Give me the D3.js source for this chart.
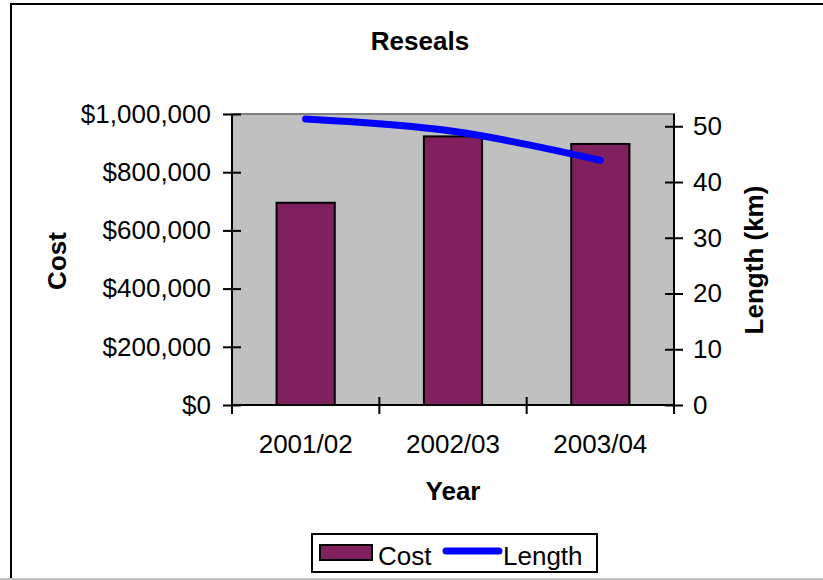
<!DOCTYPE html>
<html>
<head>
<meta charset="utf-8">
<script src="https://cdn.jsdelivr.net/npm/d3@7"></script>
<style>
  body { margin: 0; background: #fff; }
  text { font-family: "Liberation Sans", Arial, sans-serif; fill: #000; }
</style>
</head>
<body>
<div id="wrapper"></div>
<script>
const years = ["2001/02", "2002/03", "2003/04"];
const cost = [695000, 923000, 897000];
const lengthKm = [51.3, 49.1, 43.9];
const costTicks = [0, 200000, 400000, 600000, 800000, 1000000];
const lengthTicks = [0, 10, 20, 30, 40, 50];

const W = 823, H = 580;
const plot = { left: 232, right: 674, top: 114, bottom: 405 };

const svg = d3.select(`#wrapper`)
  .append(`svg`)
  .attr(`width`, W)
  .attr(`height`, H);

// outer frame
svg.append(`rect`)
  .attr(`x`, 11).attr(`y`, 4)
  .attr(`width`, 840).attr(`height`, 620)
  .attr(`fill`, `#fff`)
  .attr(`stroke`, `#000`).attr(`stroke-width`, 2);
svg.append(`line`)
  .attr(`x1`, 0).attr(`x2`, W).attr(`y1`, 579).attr(`y2`, 579)
  .attr(`stroke`, `#c0c0c0`).attr(`stroke-width`, 2);

const xScale = d3.scaleBand()
  .domain(years)
  .range([plot.left, plot.right])
  .padding(0);

const yCost = d3.scaleLinear()
  .domain([0, 1000000])
  .range([plot.bottom, plot.top]);

const yLen = d3.scaleLinear()
  .domain([0, 52.2])
  .range([plot.bottom, plot.top]);

// plot area
svg.append(`rect`)
  .attr(`x`, plot.left).attr(`y`, plot.top)
  .attr(`width`, plot.right - plot.left).attr(`height`, plot.bottom - plot.top)
  .attr(`fill`, `#c0c0c0`)
  .attr(`stroke`, `#808080`).attr(`stroke-width`, 2);

// bars
const barW = xScale.bandwidth() * 0.395;
svg.selectAll(`.bar`)
  .data(years)
  .enter().append(`rect`)
  .attr(`class`, `bar`)
  .attr(`x`, (d) => xScale(d) + (xScale.bandwidth() - barW) / 2)
  .attr(`y`, (d, i) => yCost(cost[i]))
  .attr(`width`, barW)
  .attr(`height`, (d, i) => yCost(0) - yCost(cost[i]))
  .attr(`fill`, `#80205e`)
  .attr(`stroke`, `#000`)
  .attr(`stroke-width`, 2);

// smoothed line
const line = d3.line()
  .x((d, i) => xScale(years[i]) + xScale.bandwidth() / 2)
  .y(d => yLen(d))
  .curve(d3.curveCatmullRom);

svg.append(`path`)
  .datum(lengthKm)
  .attr(`d`, line)
  .attr(`fill`, `none`)
  .attr(`stroke`, `#0000ff`)
  .attr(`stroke-width`, 7)
  .attr(`stroke-linecap`, `round`)
  .attr(`stroke-linejoin`, `round`);

const fmt = d3.format(`$,.0f`);
const fs = 26;

// left axis
const leftAxis = svg.append(`g`)
  .attr(`transform`, `translate(${plot.left},0)`)
  .call(d3.axisLeft(yCost).tickValues(costTicks).tickFormat(fmt).tickSize(9).tickPadding(12));
leftAxis.selectAll(`.tick line`).attr(`x2`, 9).attr(`x1`, -9);

// right axis
const rightAxis = svg.append(`g`)
  .attr(`transform`, `translate(${plot.right},0)`)
  .call(d3.axisRight(yLen).tickValues(lengthTicks).tickSize(9).tickPadding(10));
rightAxis.selectAll(`.tick line`).attr(`x1`, -9).attr(`x2`, 9);

// bottom axis
const bottomAxis = svg.append(`g`)
  .attr(`transform`, `translate(0,${plot.bottom})`)
  .call(d3.axisBottom(xScale).tickSize(0).tickPadding(30));
bottomAxis.selectAll(`.tick line`).remove();
const bounds = years.map(d => xScale(d)).concat([xScale(years[years.length - 1]) + xScale.bandwidth()]);
bottomAxis.selectAll(`.bound`)
  .data(bounds)
  .enter().append(`line`)
  .attr(`class`, `bound`)
  .attr(`x1`, d => d).attr(`x2`, d => d)
  .attr(`y1`, -8).attr(`y2`, 9)
  .attr(`stroke`, `#000`).attr(`stroke-width`, 2);

[leftAxis, rightAxis, bottomAxis].forEach(g => {
  g.select(`.domain`).attr(`stroke`, `#000`).attr(`stroke-width`, 2);
  g.selectAll(`.tick line`).attr(`stroke`, `#000`).attr(`stroke-width`, 2);
  g.selectAll(`text`)
    .attr(`font-family`, `"Liberation Sans", Arial, sans-serif`)
    .attr(`font-size`, fs)
    .attr(`fill`, `#000`);
});
leftAxis.select(`.domain`).attr(`d`, `M0,${plot.bottom}V${plot.top}`);
rightAxis.select(`.domain`).attr(`d`, `M0,${plot.bottom}V${plot.top}`);
bottomAxis.select(`.domain`).attr(`d`, `M${plot.left},0H${plot.right}`);

// titles
svg.append(`text`)
  .attr(`x`, 420).attr(`y`, 50)
  .attr(`text-anchor`, `middle`)
  .attr(`font-size`, fs).attr(`font-weight`, `bold`)
  .text(`Reseals`);

svg.append(`text`)
  .attr(`x`, 453).attr(`y`, 500)
  .attr(`text-anchor`, `middle`)
  .attr(`font-size`, fs).attr(`font-weight`, `bold`)
  .text(`Year`);

svg.append(`text`)
  .attr(`transform`, `translate(66,261) rotate(-90)`)
  .attr(`text-anchor`, `middle`)
  .attr(`font-size`, fs).attr(`font-weight`, `bold`)
  .text(`Cost`);

svg.append(`text`)
  .attr(`transform`, `translate(763,260) rotate(-90)`)
  .attr(`text-anchor`, `middle`)
  .attr(`font-size`, fs).attr(`font-weight`, `bold`)
  .text(`Length (km)`);

// legend
const legend = svg.append(`g`);
legend.append(`rect`)
  .attr(`x`, 312).attr(`y`, 534)
  .attr(`width`, 285).attr(`height`, 38)
  .attr(`fill`, `#fff`).attr(`stroke`, `#000`).attr(`stroke-width`, 2);
legend.append(`rect`)
  .attr(`x`, 320).attr(`y`, 545)
  .attr(`width`, 52).attr(`height`, 15)
  .attr(`fill`, `#80205e`).attr(`stroke`, `#000`).attr(`stroke-width`, 2);
legend.append(`text`)
  .attr(`x`, 378).attr(`y`, 565)
  .attr(`font-size`, fs)
  .text(`Cost`);
legend.append(`line`)
  .attr(`x1`, 446).attr(`x2`, 499).attr(`y1`, 551).attr(`y2`, 551)
  .attr(`stroke`, `#0000ff`).attr(`stroke-width`, 7).attr(`stroke-linecap`, `round`);
legend.append(`text`)
  .attr(`x`, 503).attr(`y`, 565)
  .attr(`font-size`, fs)
  .text(`Length`);
</script>
</body>
</html>
